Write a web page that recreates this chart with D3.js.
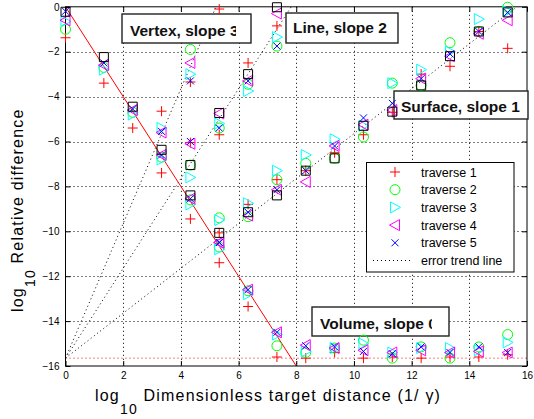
<!DOCTYPE html>
<html><head><meta charset="utf-8">
<script src="https://cdn.jsdelivr.net/npm/d3@7"></script>
<style>
body{margin:0;background:#fff;}
svg{display:block;}
text{font-family:"Liberation Sans",Arial,Helvetica,sans-serif;white-space:pre;}
</style>
</head><body>
<svg id="chart" width="534" height="419"></svg>
<script>
// ---------------- data ----------------
const xTickVals = [0, 2, 4, 6, 8, 10, 12, 14, 16];
const yTickVals = [-16, -14, -12, -10, -8, -6, -4, -2, 0];
const traverseLabels = ["traverse 1", "traverse 2", "traverse 3", "traverse 4", "traverse 5"];
const trendLabel = "error trend line";
const annotationTexts = ["Vertex, slope 3", "Line, slope 2", "Surface, slope 1", "Volume, slope 0"];
const trendSlopes = [3, 2, 1, 0];
const roundoffLevel = -15.65;
const steepFitX = [0, 8];
const steepFitY = [0, -16];

// steep (red solid line) group
const xSteep = [0, 1.33, 2.33, 3.33, 4.33, 5.33, 6.33, 7.33];
const steep1 = [-1.38, -3.4, -5.4, -7.4, -9.45, -11.4, -13.35, -15.6];
const steep2 = [-1.0, -2.7, -4.7, -6.7, -8.6, -10.7, -12.65, -15.1];
const steep3 = [-0.65, -2.8, -4.8, -6.8, -8.8, -10.8, -12.8, -14.6];
const steep4 = [-0.6, -2.6, -4.6, -6.6, -8.55, -10.5, -12.6, -14.5];
const steep5 = [-0.2, -2.5, -4.55, -6.6, -8.55, -10.5, -12.6, -14.5];
const steepRef = [-0.22, -2.24, -4.45, -6.37, -8.4, null, null, null];

// vertex group
const xVertex = [3.33, 4.33, 5.33];
const vertex1 = [-4.65, -3.35, -0.1];
const vertex2 = [null, -1.9, null];
const vertex3 = [-5.4, -3.0, null];
const vertex4 = [-5.6, -2.5, null];
const vertex5 = [-5.55, -3.3, null];

// line group
const xLine = [4.33, 5.33, 6.33, 7.33];
const line1 = [-6.05, -5.7, -2.5, -0.85];
const line2 = [-7.05, -5.4, -3.45, -1.75];
const line3 = [-7.6, -5.2, -3.75, -1.35];
const line4 = [-6.1, -4.75, -3.3, -0.3];
const line5 = [-6.0, -5.4, -3.3, -1.75];
const lineRef = [-7.05, -4.73, -3.0, -0.02];

// surface group
const xSurface = [5.33, 6.33, 7.33, 8.33, 9.33, 10.33, 11.33, 12.33, 13.33, 14.33, 15.33];
const surface1 = [-10.07, -8.8, -7.7, -7.3, -6.5, -5.7, -4.7, -3.0, -2.65, -1.1, -1.85];
const surface2 = [-9.4, -9.35, -7.7, -6.97, -6.75, -5.8, -3.4, -3.5, -1.6, -1.1, -0.02];
const surface3 = [-9.5, -8.75, -7.3, -6.6, -5.9, -5.3, -3.4, -2.8, -2.0, -0.55, -0.2];
const surface4 = [-10.5, -9.3, -8.15, -7.8, -6.2, -5.25, -4.6, -3.2, -2.2, -1.2, -0.6];
const surface5 = [-10.5, -9.15, -8.15, -7.3, -6.2, -4.95, -4.3, -3.2, -2.1, -1.1, -0.25];
const surfaceRef = [-10.07, -9.15, -8.4, -7.3, -6.75, -5.3, -4.67, -3.5, -2.2, -1.1, -0.25];

// volume group
const xVolume = [8.33, 9.33, 10.33, 11.33, 12.33, 13.33, 14.33, 15.33];
const volume1 = [-15.65, -15.4, -15.65, -15.6, -15.65, -15.6, -15.6, -15.5];
const volume2 = [-15.4, -15.2, -14.85, -15.65, -15.15, -15.65, -15.15, -14.6];
const volume3 = [-15.35, -15.2, -15.0, -15.4, -15.2, -15.2, -15.3, -14.95];
const volume4 = [-15.07, -15.2, -15.3, -15.4, -15.3, -15.4, -15.35, -15.4];
const volume5 = [-15.1, -15.15, -15.35, -15.45, -15.15, -15.4, -15.15, -15.4];

const groups = [
  {x: xSteep, t: [steep1, steep2, steep3, steep4, steep5], ref: steepRef},
  {x: xVertex, t: [vertex1, vertex2, vertex3, vertex4, vertex5], ref: null},
  {x: xLine, t: [line1, line2, line3, line4, line5], ref: lineRef},
  {x: xSurface, t: [surface1, surface2, surface3, surface4, surface5], ref: surfaceRef},
  {x: xVolume, t: [volume1, volume2, volume3, volume4, volume5], ref: null}
];

// ---------------- layout / style ----------------
const W = 534, H = 419;
const plot = {left: 65.5, right: 527, top: 6.8, bottom: 366};
const colors = ["#ff0000", "#00ff00", "#00ffff", "#ff00ff", "#0000ff"];
const markerPaths = [
  "M-5,0H5M0,-5V5",
  null,
  "M-4.5,-5.5L5.5,0L-4.5,5.5Z",
  "M4.5,-5.5L-5.5,0L4.5,5.5Z",
  "M-3.5,-3.5L3.5,3.5M-3.5,3.5L3.5,-3.5"
];
const squarePath = "M-4.5,-4.5H4.5V4.5H-4.5Z";
// lastVis: fraction of the last glyph left visible (box clips the text)
const annLayout = [
  {x0: 122, y0: 14, w: 129, h: 29, tx: 130, ty: 36, lastVis: 0.7},
  {x0: 286, y0: 13, w: 112, h: 30, tx: 293, ty: 33, lastVis: 1},
  {x0: 394, y0: 91, w: 134, h: 28, tx: 401, ty: 112, lastVis: 1},
  {x0: 312, y0: 307, w: 137, h: 29, tx: 320, ty: 328.5, lastVis: 0.42}
];

const svg = d3.select("#chart");
svg.append("rect").attr("width", W).attr("height", H).attr("fill", "#fff");

const x = d3.scaleLinear().domain([0, 16]).range([plot.left, plot.right]);
const y = d3.scaleLinear().domain([-16, 0]).range([plot.bottom, plot.top]);

const defs = svg.append("defs");
defs.append("clipPath").attr("id", "plotclip").append("rect")
  .attr("x", plot.left).attr("y", plot.top)
  .attr("width", plot.right - plot.left).attr("height", plot.bottom - plot.top);

// grid
const grid = svg.append("g");
xTickVals.slice(1, -1).forEach(v => {
  grid.append("line").attr("x1", Math.round(x(v)) + 0.5).attr("x2", Math.round(x(v)) + 0.5)
    .attr("y1", plot.top).attr("y2", plot.bottom)
    .attr("stroke", "#000").attr("stroke-width", 1).attr("stroke-dasharray", "1,3");
});
yTickVals.slice(1, -1).forEach(v => {
  grid.append("line").attr("y1", Math.round(y(v)) + 0.5).attr("y2", Math.round(y(v)) + 0.5)
    .attr("x1", plot.left).attr("x2", plot.right)
    .attr("stroke", "#000").attr("stroke-width", 1).attr("stroke-dasharray", "1,3");
});

// trend lines and red fit line
const lines = svg.append("g").attr("clip-path", "url(#plotclip)");
const lineGen = d3.line().x(d => x(d[0])).y(d => y(d[1]));
trendSlopes.forEach(s => {
  const xEnd = s === 0 ? 16 : Math.min(16, -roundoffLevel / s);
  const pts = [[0, roundoffLevel], [xEnd, roundoffLevel + s * xEnd]];
  lines.append("path").attr("d", lineGen(pts)).attr("fill", "none")
    .attr("stroke", s === 0 ? "#ff0000" : "#000").attr("stroke-width", 1)
    .attr("stroke-dasharray", "1,3");
});
lines.append("path").attr("d", lineGen(steepFitX.map((v, i) => [v, steepFitY[i]])))
  .attr("fill", "none").attr("stroke", "#ff0000").attr("stroke-width", 1);

// axes box + ticks
const axisG = svg.append("g").attr("font-size", 13);
const ax = axisG.append("g").attr("transform", `translate(0,${plot.bottom})`)
  .call(d3.axisBottom(x).tickValues(xTickVals).tickSizeInner(-5).tickSizeOuter(0).tickPadding(6));
axisG.append("g").attr("transform", `translate(0,${plot.top})`)
  .call(d3.axisTop(x).tickValues(xTickVals).tickSizeInner(-5).tickSizeOuter(0).tickFormat(""));
axisG.append("g").attr("transform", `translate(${plot.left},0)`)
  .call(d3.axisLeft(y).tickValues(yTickVals).tickSizeInner(-5).tickSizeOuter(0).tickPadding(6));
axisG.append("g").attr("transform", `translate(${plot.right},0)`)
  .call(d3.axisRight(y).tickValues(yTickVals).tickSizeInner(-5).tickSizeOuter(0).tickFormat(""));
axisG.selectAll(".domain").remove();
axisG.selectAll(".tick line").attr("stroke", "#000");
axisG.selectAll("text").attr("fill", "#000").attr("font-family", "Liberation Sans, Arial, sans-serif");
ax.selectAll("text").attr("dy", "0.71em");
axisG.append("rect").attr("x", plot.left).attr("y", plot.top)
  .attr("width", plot.right - plot.left).attr("height", plot.bottom - plot.top)
  .attr("fill", "none").attr("stroke", "#000").attr("stroke-width", 1);

// annotation boxes
annotationTexts.forEach((t, i) => {
  const L = annLayout[i];
  const cid = "annclip" + i;
  const g = svg.append("g");
  g.append("rect").attr("x", L.x0).attr("y", L.y0).attr("width", L.w).attr("height", L.h)
    .attr("fill", "#fff").attr("stroke", "#222").attr("stroke-width", 1.4);
  const txt = g.append("text").attr("x", L.tx).attr("y", L.ty)
    .attr("font-size", 15.5).attr("font-weight", "bold")
    .attr("fill", "#111").text(t);
  if (L.lastVis < 1) {
    const node = txt.node();
    const n = node.getNumberOfChars();
    const ext = node.getExtentOfChar(n - 1);
    const clipR = ext.x + L.lastVis * ext.width;
    defs.append("clipPath").attr("id", cid).append("rect")
      .attr("x", L.x0).attr("y", L.y0).attr("width", clipR - L.x0).attr("height", L.h);
    txt.attr("clip-path", `url(#${cid})`);
  }
});

// markers
const mk = svg.append("g");
function drawMarker(g, k, px, py) {
  if (k === 1) {
    g.append("circle").attr("cx", px).attr("cy", py).attr("r", 5)
      .attr("fill", "none").attr("stroke", colors[k]).attr("stroke-width", 1);
  } else {
    g.append("path").attr("d", markerPaths[k]).attr("transform", `translate(${px},${py})`)
      .attr("fill", "none").attr("stroke", colors[k]).attr("stroke-width", 1);
  }
}
groups.forEach(gr => {
  gr.t.forEach((vals, k) => {
    vals.forEach((v, i) => {
      if (v === null) return;
      drawMarker(mk, k, x(gr.x[i]), y(v));
    });
  });
  if (gr.ref) {
    gr.ref.forEach((v, i) => {
      if (v === null) return;
      mk.append("path").attr("d", squarePath).attr("transform", `translate(${x(gr.x[i])},${y(v)})`)
        .attr("fill", "none").attr("stroke", "#000").attr("stroke-width", 1);
    });
  }
});

// legend
const leg = svg.append("g");
leg.append("rect").attr("x", 366.5).attr("y", 162.5).attr("width", 147.5).attr("height", 109.5)
  .attr("fill", "#fff").attr("stroke", "#000").attr("stroke-width", 1);
const legY0 = 172, legDy = 17.7;
traverseLabels.forEach((lab, k) => {
  const yy = legY0 + k * legDy;
  drawMarker(leg, k, 395, yy);
  leg.append("text").attr("x", 421).attr("y", yy + 4.5).attr("font-size", 12.5)
    .attr("fill", "#000").text(lab);
});
{
  const yy = legY0 + 5 * legDy;
  leg.append("line").attr("x1", 373).attr("x2", 413).attr("y1", yy).attr("y2", yy)
    .attr("stroke", "#000").attr("stroke-width", 1).attr("stroke-dasharray", "1,3");
  leg.append("text").attr("x", 421).attr("y", yy + 4.5).attr("font-size", 12.5)
    .attr("fill", "#000").text(trendLabel);
}

// axis labels
const xl = svg.append("text").attr("x", 95).attr("y", 401).attr("font-size", 16)
  .attr("letter-spacing", 1.2).attr("fill", "#000");
xl.append("tspan").text("log");
xl.append("tspan").attr("font-size", 14).attr("dy", 13).text("10");
xl.append("tspan").attr("dy", -13).text(" Dimensionless target distance (1/ γ)");

const yl = svg.append("text").attr("transform", "translate(23,312) rotate(-90)")
  .attr("font-size", 16).attr("letter-spacing", 1.2).attr("fill", "#000");
yl.append("tspan").text("log");
yl.append("tspan").attr("font-size", 14).attr("dy", 12).text("10");
yl.append("tspan").attr("dy", -12).text(" Relative difference");
</script>
</body></html>
